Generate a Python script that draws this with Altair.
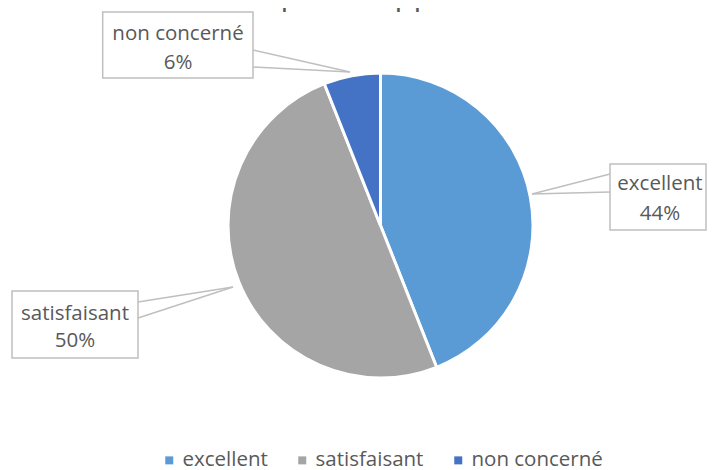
import altair as alt
import pandas as pd

# ---- data ----
categories = ["excellent", "satisfaisant", "non concerné"]
values = [44, 50, 6]
colors = ["#5B9BD5", "#A5A5A5", "#4472C4"]
title_text = "réponse apportée"

# ---- layout (pixels, svg coordinates) ----
W, H = 699, 462
CX, CY, R = 372.5, 217.5, 152.5
FONT = "Open Sans"
FS = 20.5
TXT = "#595959"
LINE = "#BFBFBF"

layout = {
    "excellent":    dict(x1=602, x2=698, y1=156, y2=222, tx=652, ty1=176, ty2=206,
                         wx=602, wy1=166, wy2=184, px=524, py=186),
    "satisfaisant": dict(x1=4, x2=130, y1=283, y2=350, tx=67, ty1=306, ty2=333,
                         wx=130, wy1=294, wy2=310, px=225, py=279),
    "non concerné": dict(x1=94.7, x2=245, y1=4, y2=70, tx=170, ty1=26, ty2=55,
                         wx=245, wy1=42, wy2=59, px=342, py=64),
}

pie_df = pd.DataFrame({"category": categories, "value": values,
                       "order": list(range(len(categories)))})

rows = []
seg = []
for c, v in zip(categories, values):
    L = layout[c]
    rows.append(dict(category=c, name=c, pct=f"{v}%", **{k: L[k] for k in
                ["x1", "x2", "y1", "y2", "tx", "ty1", "ty2"]}))
    seg.append(dict(category=c, x=L["wx"], y=L["wy1"], x2=L["px"], y2=L["py"]))
    seg.append(dict(category=c, x=L["wx"], y=L["wy2"], x2=L["px"], y2=L["py"]))
lab_df = pd.DataFrame(rows)
seg_df = pd.DataFrame(seg)

xs = alt.Scale(domain=[0, W], range=[0, W])
ys = alt.Scale(domain=[0, H], range=[0, H])

arc = alt.Chart(pie_df).mark_arc(outerRadius=R, stroke="white", strokeWidth=3).encode(
    theta=alt.Theta("value:Q", stack=True),
    color=alt.Color("category:N", sort=categories,
                    scale=alt.Scale(domain=categories, range=colors),
                    legend=alt.Legend(orient="none", legendX=151, legendY=442,
                                      direction="horizontal", title=None,
                                      symbolType="square", symbolSize=64,
                                      symbolStrokeWidth=0, labelFont=FONT,
                                      labelFontSize=FS, labelColor=TXT,
                                      labelOffset=3, columnPadding=24, padding=0)),
    order=alt.Order("order:Q"),
    x=alt.value(CX), y=alt.value(CY),
)

wedges = alt.Chart(seg_df).mark_rule(color=LINE, strokeWidth=1.5).encode(
    x=alt.X("x:Q", scale=xs, axis=None), y=alt.Y("y:Q", scale=ys, axis=None),
    x2="x2:Q", y2="y2:Q",
)

boxes = alt.Chart(lab_df).mark_rect(fill="white", stroke=LINE, strokeWidth=1.5).encode(
    x=alt.X("x1:Q", scale=xs, axis=None), x2="x2:Q",
    y=alt.Y("y1:Q", scale=ys, axis=None), y2="y2:Q",
)

t1 = alt.Chart(lab_df).mark_text(font=FONT, fontSize=FS, color=TXT, align="center",
                                 baseline="middle").encode(
    x=alt.X("tx:Q", scale=xs, axis=None), y=alt.Y("ty1:Q", scale=ys, axis=None),
    text="name:N",
)
t2 = alt.Chart(lab_df).mark_text(font=FONT, fontSize=FS, color=TXT, align="center",
                                 baseline="middle").encode(
    x=alt.X("tx:Q", scale=xs, axis=None), y=alt.Y("ty2:Q", scale=ys, axis=None),
    text="pct:N",
)

title = alt.Chart(pd.DataFrame({"t": [title_text]})).mark_text(
    font=FONT, fontSize=31, color=TXT, align="center", baseline="alphabetic"
).encode(x=alt.value(372), y=alt.value(-3), text="t:N")

chart = alt.layer(arc, wedges, boxes, t1, t2, title).properties(
    width=W, height=H, autosize=alt.AutoSizeParams(type="none"), padding=0,
    background="white",
).configure_view(stroke=None)

chart.save("out.html", embed_options={"renderer": "svg", "actions": False})
